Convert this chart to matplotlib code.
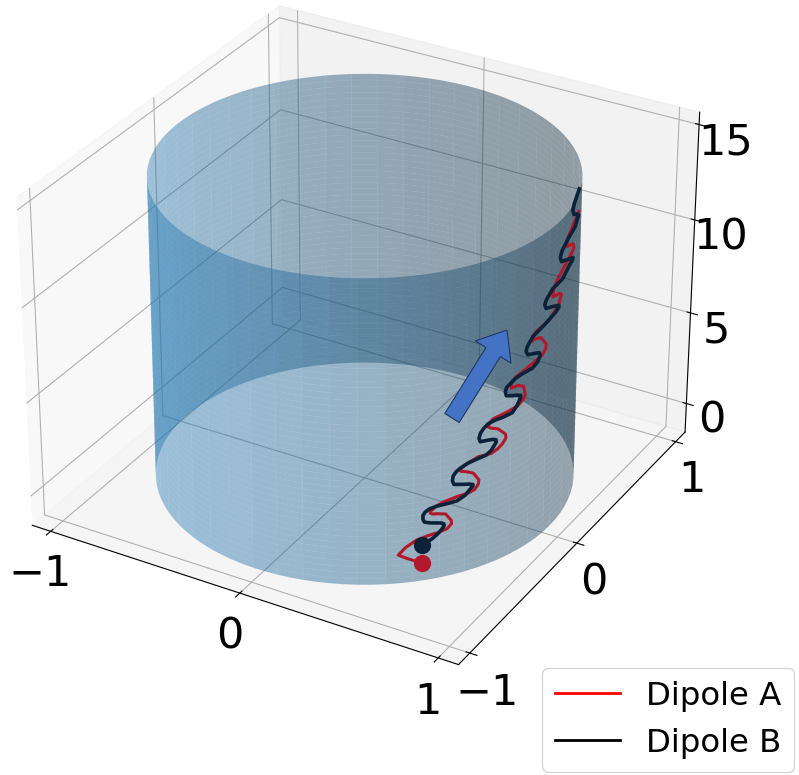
import matplotlib
matplotlib.use("Agg")
import matplotlib.pyplot as plt
from matplotlib.lines import Line2D
from matplotlib.patches import FancyArrow
import numpy as np

# position along the straight drift of the pair (0 = start, 1 = far wall) and height
along_a = [0, -.10, -.157, -.11, -.039, .047, .11, .165, .195, .194, .155, .10, .068, .052, .058, .09, .133, .241,
           .30, .348, .372, .376, .337, .29, .252, .255, .284, .370, .455, .50, .531, .555, .552, .499, .45, .434,
           .44, .466, .552, .628, .665, .681, .668, .63, .585, .585, .61, .649, .714, .789, .815, .817, .778, .74,
           .714, .72, .746, .832, .897, .912, .90, .854, .86, .886, .972, .99, .983, .939, .945, .972, 1.015]
height_a = [0, .65, 1.05, 1.25, 1.35, 1.27, 1.17, 1.14, 1.28, 1.46, 1.95, 2.18, 2.29, 2.40, 2.50, 2.60, 2.64, 2.55,
            2.45, 2.47, 2.65, 2.87, 3.37, 3.62, 3.79, 3.92, 4.01, 4.09, 3.93, 4.0, 4.14, 4.35, 4.57, 5.04, 5.26, 5.38,
            5.55, 5.68, 5.68, 5.72, 5.9, 6.12, 6.60, 6.78, 6.80, 7.09, 7.25, 7.35, 7.52, 7.74, 7.98, 8.23, 8.69, 8.75,
            8.72, 8.92, 9.11, 9.36, 9.96, 10.42, 10.5, 10.47, 10.9, 11.29, 12.23, 12.45, 12.70, 12.70, 13.1, 13.51, 14.19]
along_b = [0, .068, .105, .133, .146, .144, .125, .090, .05, .015, .005, .004, .018, .047, .09, .155, .230, .285,
           .316, .335, .337, .310, .273, .208, .198, .202, .222, .252, .300, .348, .423, .455, .477, .490, .488, .465,
           .434, .381, .372, .381, .402, .434, .480, .531, .595, .625, .649, .650, .628, .590, .552, .545, .552, .574,
           .610, .649, .725, .760, .778, .770, .692, .680, .688, .725, .760, .800, .875, .897, .897, .860, .810, .800,
           .810, .854, .918, .961, .983, .985, .907, .898, .907, .950, .994, 1.015, 1.005, .983, .975, .983, 1.015]
height_b = [.94, 1.01, 1.12, 1.27, 1.38, 1.48, 1.60, 1.74, 1.90, 2.08, 2.25, 2.46, 2.58, 2.64, 2.60, 2.47, 2.34, 2.42,
            2.60, 2.70, 2.77, 2.90, 3.03, 3.28, 3.50, 3.73, 3.88, 3.96, 4.02, 4.01, 3.97, 4.08, 4.27, 4.40, 4.52, 4.62,
            4.70, 4.82, 5.02, 5.25, 5.42, 5.55, 5.56, 5.51, 5.51, 5.75, 6.07, 6.20, 6.29, 6.40, 6.54, 6.75, 6.96, 7.05,
            7.20, 7.27, 7.31, 7.50, 7.78, 7.95, 8.12, 8.34, 8.56, 8.93, 9.08, 9.24, 9.62, 9.79, 9.90, 9.98, 10.05, 10.26,
            10.48, 10.90, 11.16, 11.68, 11.90, 12.0, 12.06, 12.30, 12.57, 13.08, 13.51, 14.03, 14.10, 14.15, 14.40, 14.67, 15.31]

xticks = [-1, 0, 1]
yticks = [-1, 0, 1]
zticks = [0, 5, 10, 15]
cyl_radius = 0.96
cyl_bottom = -1.1
cyl_top = 14.75


def to_xyz(along, height):
    s = np.array(along)
    return 0.588 + 0.2765 * s, -0.509 + 0.8775 * s, np.array(height) * 1.037 - 1.45


fig = plt.figure(figsize=(7.99, 7.75), dpi=100)
ax = fig.add_axes([-0.034, 0.0824, 0.955, 0.984], projection="3d", computed_zorder=False)
ax.set_box_aspect((4, 4, 3.06))

theta = np.linspace(0, 2 * np.pi, 100)
zz = np.linspace(cyl_bottom, cyl_top, 50)
T, Z = np.meshgrid(theta, zz)
ax.plot_surface(cyl_radius * np.cos(T), cyl_radius * np.sin(T), Z, alpha=0.42, zorder=1)

xa, ya, za = to_xyz(along_a, height_a)
xb, yb, zb = to_xyz(along_b, height_b)
ax.plot(xa, ya, za, color="#b2182b", lw=2.2, zorder=2, solid_joinstyle="round")
ax.plot(xb, yb, zb, color="#0b2239", lw=2.6, zorder=3, solid_joinstyle="round")
ax.scatter(xa[:1], ya[:1], za[:1], color="#b2182b", s=130, depthshade=False, zorder=4)
ax.scatter(xb[:1], yb[:1], zb[:1], color="#0b2239", s=130, depthshade=False, zorder=5)

ax.set_xlim(-1.1, 1.1)
ax.set_ylim(-1.1, 1.1)
ax.set_zlim(-1.6, 15.64)
ax.set_xticks(xticks)
ax.set_yticks(yticks)
ax.set_zticks(zticks)
ax.tick_params(labelsize=31)

# overlay in picture pixels for the arrow
over = fig.add_axes([0, 0, 1, 1])
over.set_xlim(0, 799)
over.set_ylim(775, 0)
over.axis("off")
over.add_patch(FancyArrow(452, 418, 55, -88, width=17, head_width=42, head_length=26,
                          length_includes_head=True, facecolor="#4472c4", edgecolor="#1f3864", lw=0.8))

handles = [Line2D([], [], color="red", lw=2), Line2D([], [], color="black", lw=2)]
fig.legend(handles, ["Dipole A", "Dipole B"], fontsize=23.3, loc="lower right",
           bbox_to_anchor=(1.002, -0.004), borderaxespad=0.2)

fig.savefig("out.png", dpi=100)
